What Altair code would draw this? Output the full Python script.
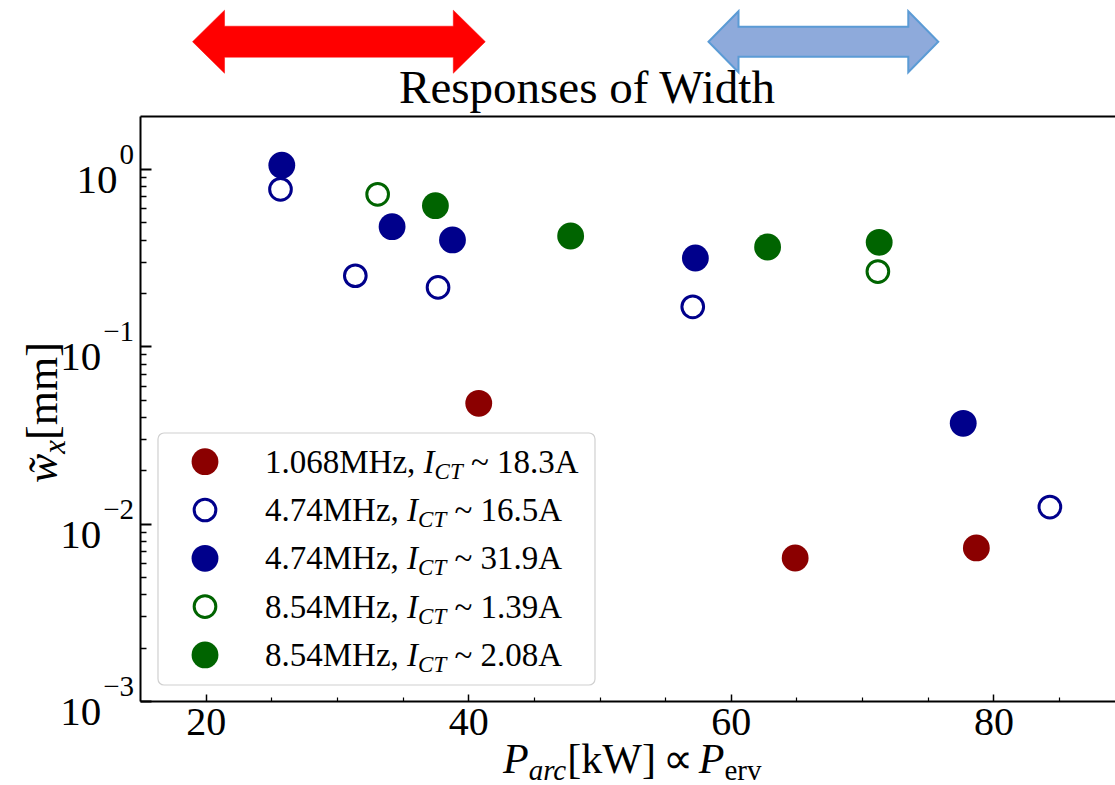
import altair as alt
import pandas as pd

FONT = "Liberation Serif"

# ---------------------------------------------------------------- series
series_names = [
    "1.068MHz, I_CT ~ 18.3A",
    "4.74MHz, I_CT ~ 16.5A",
    "4.74MHz, I_CT ~ 31.9A",
    "8.54MHz, I_CT ~ 1.39A",
    "8.54MHz, I_CT ~ 2.08A",
]
series_freq = ["1.068MHz, ", "4.74MHz, ", "4.74MHz, ", "8.54MHz, ", "8.54MHz, "]
series_current = [" ~ 18.3A", " ~ 16.5A", " ~ 31.9A", " ~ 1.39A", " ~ 2.08A"]
series_colors = ["#8b0000", "#00008b", "#00008b", "#006400", "#006400"]
series_filled = [True, False, True, False, True]

# arc power P_arc [kW] and width w_x [mm]
p_1068_183 = [40.8, 64.9, 78.7]
w_1068_183 = [0.0477, 0.0064, 0.0073]
p_474_165 = [25.7, 31.4, 37.7, 57.1, 84.3]
w_474_165 = [0.768, 0.250, 0.215, 0.167, 0.0124]
p_474_319 = [25.8, 34.2, 38.8, 57.3, 77.7]
w_474_319 = [1.05, 0.473, 0.398, 0.315, 0.0368]
p_854_139 = [33.1, 71.2]
w_854_139 = [0.72, 0.264]
p_854_208 = [37.5, 47.8, 62.8, 71.3]
w_854_208 = [0.621, 0.419, 0.363, 0.386]

# power ranges marked by the arrows above the plot
arrow_start = [19.0, 58.3]
arrow_end = [41.3, 75.8]

# axis ticks
x_major = [20, 40, 60, 80]
x_minor = [25, 30, 35, 45, 50, 55, 65, 70, 75, 85]
y_major = [1, 0.1, 0.01, 0.001]
y_major_exp = ["0", "\u22121", "\u22122", "\u22123"]
y_minor = [m * d for d in (0.001, 0.01, 0.1, 1.0) for m in range(2, 10) if m * d < 1.99]

X_DOMAIN = [15, 89.26]
Y_DOMAIN = [0.001, 1.99]
W, H = 975, 585

# ---------------------------------------------------------------- table
rows = []
all_p = [p_1068_183, p_474_165, p_474_319, p_854_139, p_854_208]
all_w = [w_1068_183, w_474_165, w_474_319, w_854_139, w_854_208]
for name, filled, ps, ws in zip(series_names, series_filled, all_p, all_w):
    for p, w in zip(ps, ws):
        rows.append({"series": name, "filled": filled, "p": p, "w": w})
df = pd.DataFrame(rows)

xs = alt.Scale(domain=X_DOMAIN, nice=False, zero=False)
ys = alt.Scale(type="log", domain=Y_DOMAIN, nice=False)
color_scale = alt.Scale(domain=series_names, range=series_colors)

# Times-like advance widths (per 1000 em) for placing mixed-style text runs
ROMAN = {" ": 250, ".": 250, ",": 250, "M": 889, "H": 722, "z": 444, "A": 722,
         "~": 541, "\u2212": 564, "[": 333, "]": 333, "k": 500, "W": 944, "m": 778}
ITALIC = {"I": 333, "C": 667, "T": 556, "P": 611, "a": 500, "r": 389, "c": 444,
          "w": 667, "x": 444}


def text_width(s, size, italic=False):
    table = ITALIC if italic else ROMAN
    return sum(table.get(ch, 500) for ch in s) * size / 1000.0


def label(s, x, y, size, style="normal", align="left", angle=0, color="black"):
    # SVG drops leading blanks, so turn them into an explicit shift
    stripped = s.lstrip(" ")
    if align == "left":
        x = x + text_width(s[: len(s) - len(stripped)], size, style == "italic")
    return alt.Chart(pd.DataFrame({"t": [stripped]})).mark_text(
        align=align, baseline="alphabetic", font=FONT, fontSize=size,
        fontStyle=style, angle=angle, color=color,
    ).encode(text="t:N", x=alt.value(x), y=alt.value(y))


def axis_holder(xaxis=None, yaxis=None):
    return alt.Chart(df).mark_point(opacity=0).encode(
        x=alt.X("p:Q", scale=xs, axis=xaxis),
        y=alt.Y("w:Q", scale=ys, axis=yaxis),
    )


layers = []

# ---------------------------------------------------------------- axes
layers.append(axis_holder(xaxis=alt.Axis(
    orient="bottom", values=x_major, ticks=False, tickSize=0, domain=True,
    domainColor="black", domainWidth=2, labelFont=FONT, labelFontSize=40,
    labelColor="black", labelPadding=1, grid=False, title=None)))
layers.append(axis_holder(xaxis=alt.Axis(
    orient="bottom", values=x_major, domain=False, labels=False, ticks=True,
    tickSize=7, tickWidth=1.5, tickColor="black", offset=-7, grid=False, title=None)))
layers.append(axis_holder(xaxis=alt.Axis(
    orient="bottom", values=x_minor, domain=False, labels=False, ticks=True,
    tickSize=4, tickWidth=1.2, tickColor="black", offset=-4, grid=False, title=None)))
layers.append(axis_holder(xaxis=alt.Axis(
    orient="top", domain=True, domainColor="black", domainWidth=2,
    ticks=False, labels=False, grid=False, title=None)))
layers.append(axis_holder(yaxis=alt.Axis(
    orient="left", domain=True, domainColor="black", domainWidth=2,
    ticks=False, labels=False, grid=False, title=None)))
layers.append(axis_holder(yaxis=alt.Axis(
    orient="left", values=y_major, domain=False, labels=False, ticks=True,
    tickSize=11, tickWidth=2, tickColor="black", offset=-11, grid=False, title=None)))
layers.append(axis_holder(yaxis=alt.Axis(
    orient="left", values=y_minor, domain=False, labels=False, ticks=True,
    tickSize=6, tickWidth=1.5, tickColor="black", offset=-6, grid=False, title=None)))

# y tick labels 10^n, drawn through the log scale
for v, e in zip(y_major, y_major_exp):
    d = pd.DataFrame({"w": [v], "base": ["10"], "exp": [e]})
    ew = text_width(e, 29)
    layers.append(alt.Chart(d).mark_text(
        align="right", baseline="alphabetic", dy=24, font=FONT, fontSize=41, color="black"
    ).encode(x=alt.value(-6 - ew - 2), y=alt.Y("w:Q", scale=ys, axis=None), text="base:N"))
    layers.append(alt.Chart(d).mark_text(
        align="right", baseline="alphabetic", dy=-5, font=FONT, fontSize=29, color="black"
    ).encode(x=alt.value(-6), y=alt.Y("w:Q", scale=ys, axis=None), text="exp:N"))

# ---------------------------------------------------------------- points
open_pts = alt.Chart(df[~df["filled"]]).mark_point(
    shape="circle", filled=False, size=470, strokeWidth=3, opacity=1
).encode(
    x=alt.X("p:Q", scale=xs, axis=None),
    y=alt.Y("w:Q", scale=ys, axis=None),
    color=alt.Color("series:N", scale=color_scale, legend=None),
)
filled_pts = alt.Chart(df[df["filled"]]).mark_circle(size=720, opacity=1).encode(
    x=alt.X("p:Q", scale=xs, axis=None),
    y=alt.Y("w:Q", scale=ys, axis=None),
    color=alt.Color("series:N", scale=color_scale, legend=None),
)
layers += [open_pts, filled_pts]

# ---------------------------------------------------------------- arrows
px_per_kw = W / (X_DOMAIN[1] - X_DOMAIN[0])
arrow_styles = [
    dict(fill="#ff0000", stroke="#ff0000", strokeWidth=0.5, head=32, head_h=31.5, shaft_h=15.5),
    dict(fill="#8eaadb", stroke="#5b9bd5", strokeWidth=2, head=30, head_h=30.5, shaft_h=15),
]
for s, e, st in zip(arrow_start, arrow_end, arrow_styles):
    half = (e - s) / 2 * px_per_kw
    hb = 1 - st["head"] / half
    hh = st["head_h"] / half
    sh = st["shaft_h"] / half
    path = (f"M -1 0 L {-hb:.4f} {-hh:.4f} L {-hb:.4f} {-sh:.4f} L {hb:.4f} {-sh:.4f} "
            f"L {hb:.4f} {-hh:.4f} L 1 0 L {hb:.4f} {hh:.4f} L {hb:.4f} {sh:.4f} "
            f"L {-hb:.4f} {sh:.4f} L {-hb:.4f} {hh:.4f} Z")
    layers.append(alt.Chart(pd.DataFrame({"p": [(s + e) / 2]})).mark_point(
        shape=path, size=(2 * half) ** 2, filled=True, fill=st["fill"],
        stroke=st["stroke"], strokeWidth=st["strokeWidth"], opacity=1,
    ).encode(x=alt.X("p:Q", scale=xs, axis=None), y=alt.value(-74.3)))

# ---------------------------------------------------------------- titles
layers.append(label("Responses of Width", 447, -13, 47, align="center"))

# x title: P_arc [kW] ∝ P_erv
XT_BASE, XT_SUB = 657, 664
layers.append(label("P", 363, XT_BASE, 42, style="italic"))
layers.append(label("arc", 363 + text_width("P", 42, True), XT_SUB, 29, style="italic"))
kw_x = 363 + text_width("P", 42, True) + text_width("arc", 29, True)
layers.append(label("[kW]", kw_x, XT_BASE, 42))
layers.append(label("\u221d", 537.6, XT_BASE, 42, align="center"))
layers.append(label("P", 558.8, XT_BASE, 42, style="italic"))
layers.append(label("erv", 558.8 + text_width("P", 42, True), XT_SUB, 29))

# y title: w~_x [mm], reading upward
layers.append(label("w\u0303", -83, 367, 44, style="italic", angle=270))
layers.append(label("x", -75, 367 - text_width("w", 44, True), 31, style="italic", angle=270))
layers.append(label("[mm]", -83, 367 - text_width("w", 44, True) - text_width("x", 31, True), 44, angle=270))

# ---------------------------------------------------------------- legend
layers.append(alt.Chart(pd.DataFrame({"a": [0]})).mark_rect(
    fill="white", stroke="#d0d0d0", strokeWidth=1.2, cornerRadius=6, opacity=1
).encode(x=alt.value(18), x2=alt.value(455), y=alt.value(317), y2=alt.value(569)))

LEG_FS, LEG_SUB = 33, 23
for i, (freq, cur, col, filled) in enumerate(zip(series_freq, series_current, series_colors, series_filled)):
    cy = 345.7 + i * 48.3
    if filled:
        sym = alt.Chart(pd.DataFrame({"a": [0]})).mark_circle(size=720, opacity=1, color=col)
    else:
        sym = alt.Chart(pd.DataFrame({"a": [0]})).mark_point(
            shape="circle", filled=False, size=470, strokeWidth=3, opacity=1, color=col)
    layers.append(sym.encode(x=alt.value(65), y=alt.value(cy)))
    base_y = cy + 11
    x0 = 125
    layers.append(label(freq, x0, base_y, LEG_FS))
    x1 = x0 + text_width(freq, LEG_FS)
    layers.append(label("I", x1, base_y, LEG_FS, style="italic"))
    x2 = x1 + text_width("I", LEG_FS, True)
    layers.append(label("CT", x2, base_y + 6, LEG_SUB, style="italic"))
    x3 = x2 + text_width("CT", LEG_SUB, True)
    layers.append(label(cur, x3, base_y, LEG_FS))

chart = alt.layer(*layers).resolve_axis(
    x="independent", y="independent"
).properties(
    width=W, height=H,
    padding={"left": 140, "top": 116, "right": 0, "bottom": 84},
    autosize=alt.AutoSizeParams(type="none"),
    background="white",
).configure_view(stroke="transparent")

chart.save("out.html", embed_options={"renderer": "svg", "actions": False})
